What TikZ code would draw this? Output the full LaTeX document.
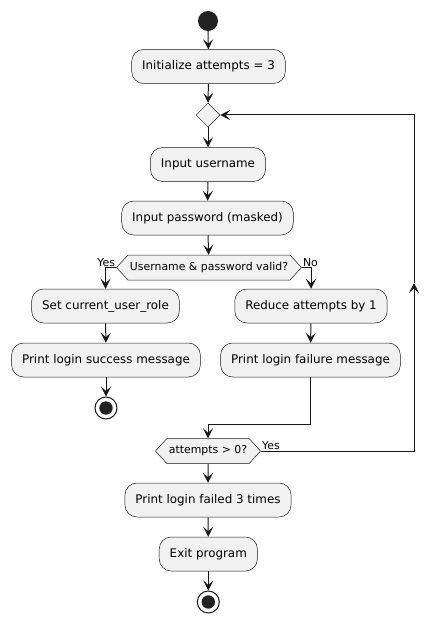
\documentclass[tikz,border=0pt]{standalone}
\usepackage{fontspec}
\setmainfont{DejaVu Sans}
\usetikzlibrary{arrows.meta,shapes.geometric,shapes.symbols}
\definecolor{actfill}{HTML}{F1F1F1}
\definecolor{actline}{HTML}{181818}
\definecolor{dotfill}{HTML}{222222}
\begin{document}
\begin{tikzpicture}[x=1pt,y=-1pt,
        act/.style={draw=actline,line width=0.5pt,fill=actfill,rounded corners=12pt,minimum height=34pt,inner xsep=10.5pt,font=\fontsize{11.9}{14}\selectfont},
        cond/.style={draw=actline,line width=0.5pt,fill=actfill,signal,signal to=west and east,signal pointer angle=95,minimum height=25pt,inner xsep=2pt,font=\fontsize{10.9}{13}\selectfont},
        lbl/.style={inner sep=1pt,font=\fontsize{10.9}{13}\selectfont},
        stopdot/.style={circle,draw=actline,line width=1pt,fill=white,minimum size=22pt,inner sep=0pt},
        flow/.style={draw=actline,line width=1pt,-{Stealth[length=10pt,width=10pt,inset=4.5pt]}}]
        \useasboundingbox (0,0) rectangle (439,623);
        \node[circle,fill=dotfill,minimum size=20pt,inner sep=0pt] (start) at (208,21) {};
        \node[act] (init) at (208.5,66.5) {Initialize attempts = 3};
        \node[diamond,draw=actline,line width=0.5pt,fill=actfill,minimum size=24pt,inner sep=0pt] (merge) at (208,115) {};
        \node[act] (user) at (208,164.5) {Input username};
        \node[act] (pass) at (207.5,218) {Input password (masked)};
        \node[cond] (check) at (209,267.5) {Username \& password valid?};
        \node[lbl,anchor=south east] (yes1) at (check.west) {Yes};
        \node[lbl,anchor=south west] (no1) at (check.east) {No};
        \node[act] (role) at (105.5,306) {Set current\_user\_role};
        \node[act] (success) at (106,360) {Print login success message};
        \node[stopdot] (stop1) at (106,408) {};
        \fill[dotfill] (stop1) circle [radius=6.7];
        \node[act] (reduce) at (311,306) {Reduce attempts by 1};
        \node[act] (fail) at (310.5,360) {Print login failure message};
        \node[cond] (again) at (208,451) {attempts > 0?};
        \node[lbl,anchor=south west] (yes2) at (again.east) {Yes};
        \node[act] (failed) at (208,500) {Print login failed 3 times};
        \node[act] (exitp) at (208.3,554) {Exit program};
        \node[stopdot] (stop2) at (208.3,602) {};
        \fill[dotfill] (stop2) circle [radius=6.7];
        \coordinate (join) at (208,424);
        \coordinate (loopb) at (414,451);
        \coordinate (loopt) at (414,115);
        \path (loopb) -- (loopt) coordinate[pos=0.5] (loopm);
        \draw[flow] (start) -- (init);
        \draw[flow] (init) -- (merge);
        \draw[flow] (merge) -- (user);
        \draw[flow] (user) -- (pass);
        \draw[flow] (pass) -- (check);
        \draw[flow] (check.west) -| (role.north);
        \draw[flow] (check.east) -| (reduce.north);
        \draw[flow] (role) -- (success);
        \draw[flow] (success) -- (stop1);
        \draw[flow] (reduce) -- (fail);
        \draw[flow] (fail.south) |- (join) -- (again.north);
        \draw[flow] (again.east) -- (loopb) -- (loopm);
        \draw[flow] (loopm) -- (loopt) -- (merge.east);
        \draw[flow] (again) -- (failed);
        \draw[flow] (failed) -- (exitp);
        \draw[flow] (exitp) -- (stop2);
\end{tikzpicture}
\end{document}
